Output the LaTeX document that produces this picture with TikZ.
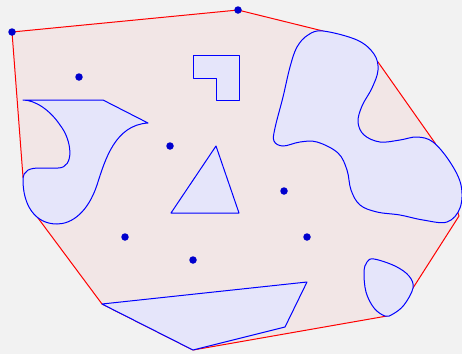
\documentclass[tikz,border=0pt]{standalone}
\usetikzlibrary{backgrounds}
\definecolor{bgray}{RGB}{242,242,242}
\definecolor{hullpink}{RGB}{242,230,230}
\definecolor{shapefill}{RGB}{229,229,250}
\definecolor{dotblue}{RGB}{0,0,205}
\tikzstyle{vertex}=[circle, inner sep=0pt, minimum size=7.5pt, fill=dotblue]
\tikzstyle{hull}=[draw=red, fill=hullpink, line width=1pt, line join=round]
\tikzstyle{region}=[draw=blue, fill=shapefill, line width=1pt, line join=round]
\newcommand{\vertex}{\node[vertex]}

\begin{document}
\begin{tikzpicture}[x=1pt,y=-1pt]
\useasboundingbox (0,0) rectangle (462,354);

\vertex (1) at (12,32) {};
    \vertex (2) at (238,10) {};
    \vertex (3) at (79,77) {};
    \vertex (4) at (170,146) {};
    \vertex (5) at (284,191) {};
    \vertex (6) at (125,237) {};
    \vertex (7) at (307,237) {};
    \vertex (8) at (193,260) {};

% points where the hull touches the shapes
\coordinate (b1) at (323,31);
\coordinate (b2) at (378,62);
\coordinate (b3) at (435,143);
\coordinate (b4) at (459,216);
\coordinate (s1) at (413,288);
\coordinate (s2) at (387,316);
\coordinate (q1) at (193,350);
\coordinate (q2) at (102,304);
\coordinate (l1) at (38,218);
\coordinate (l2) at (23,177);

\begin{pgfonlayer}{background}
\fill[bgray] (0,0) rectangle (462,354);
\path[hull] (1.center) -- (2.center) -- (b1) -- (b2) -- (b3) -- (b4)
    -- (s1) -- (s2) -- (q1) -- (q2) -- (l1) -- (l2) -- cycle;
\end{pgfonlayer}

% L shape and triangle
\path[region] (193,55) -- (239,55) -- (239,100) -- (216,100) -- (216,78) -- (193,78) -- cycle;
\path[region] (216,146) -- (239,213) -- (171,213) -- cycle;

% bottom quadrilateral
\path[region] (q2) -- (307,282) -- (285,327) -- (q1) -- cycle;

% left shape
\path[region] (23,100) -- (103,100) -- (148,123)
    .. controls (115,125) and (105,160) .. (97,185)
    .. controls (88,212) and (72,224) .. (57,224)
    .. controls (35,224) and (23,205) .. (23,180)
    .. controls (23,170) and (30,168) .. (40,168) -- (58,168)
    .. controls (75,168) and (72,140) .. (60,125)
    .. controls (50,110) and (35,100) .. (23,100) -- cycle;

% small blob
\path[region] plot[smooth cycle, tension=0.6] coordinates {(374,259) (395,266) (409,276) (413,288)
    (404,305) (393,314) (385,316) (374,308) (366,292) (364,272) (367,262)};

% big blob
\path[region] plot[smooth cycle, tension=0.6] coordinates {(323,31) (357,40) (374,54) (378,70)
    (372,88) (362,106) (358,122) (364,135) (380,142) (400,140) (417,137) (433,142)
    (450,162) (461,185) (460,208) (447,222) (423,220) (400,215) (377,212) (360,205)
    (351,190) (347,170) (338,153) (317,142) (300,142) (283,146) (274,141) (275,128)
    (283,97) (290,67) (297,47) (308,35)};
\end{tikzpicture}
\end{document}
